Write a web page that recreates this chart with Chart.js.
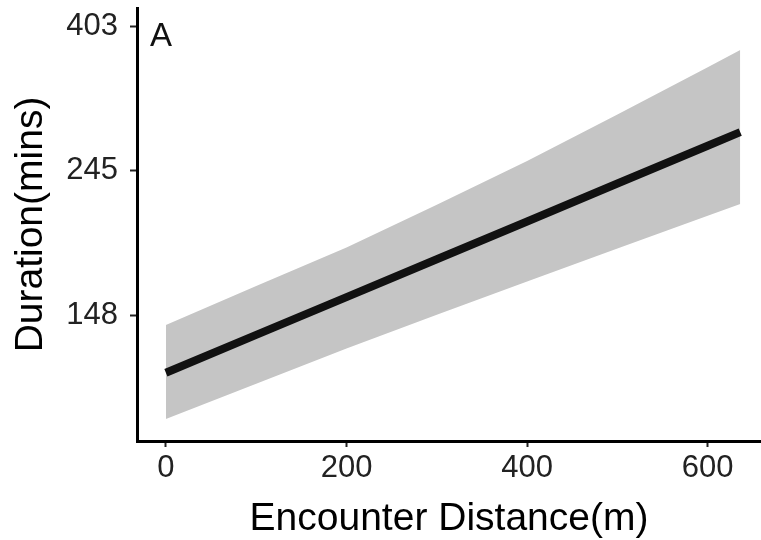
<!DOCTYPE html>
<html>
<head>
<meta charset="utf-8">
<script src="https://cdn.jsdelivr.net/npm/chart.js@4.4.1/dist/chart.umd.min.js"></script>
<style>
  html, body { margin: 0; padding: 0; background: #ffffff; }
  canvas { display: block; }
</style>
</head>
<body>
<canvas id="c" width="761" height="540"></canvas>
<script>
// Encounter distance (m)
const distance = [0, 100, 200, 300, 400, 500, 600, 636];
// Fitted duration (mins)
const fitted = [121.6, 138.6, 158.0, 180.1, 205.3, 234.1, 266.8, 279.7];
// 95% confidence band
const upper = [143.4, 164.2, 187.6, 217.6, 253.1, 297.3, 350.3, 371.8];
const lower = [103.6, 117.0, 132.2, 148.6, 166.7, 186.9, 209.4, 218.1];
// Axis ticks
const xTickValues = [0, 200, 400, 600];
const yTickValues = [148.41, 244.69, 403.43];
const yTickLabels = ['148', '245', '403'];
const panelLabel = 'A';

const FONT = "'Liberation Sans', Arial, sans-serif";

const toPts = (ys) => distance.map((d, i) => ({ x: d, y: ys[i] }));

const panelLabelPlugin = {
  id: 'panelLabel',
  afterDraw(chart) {
    const ctx = chart.ctx;
    ctx.save();
    ctx.font = '33px ' + FONT;
    ctx.fillStyle = '#111111';
    ctx.textBaseline = 'alphabetic';
    ctx.textAlign = 'left';
    ctx.fillText(panelLabel, chart.chartArea.left + 13, 46);
    ctx.restore();
  }
};

new Chart(document.getElementById('c'), {
  type: 'line',
  data: {
    datasets: [
      {
        label: 'fit',
        data: toPts(fitted),
        borderColor: '#111111',
        borderWidth: 8,
        pointRadius: 0,
        fill: false,
        tension: 0,
        borderCapStyle: 'butt'
      },
      {
        label: 'upper',
        data: toPts(upper),
        borderWidth: 0,
        pointRadius: 0,
        backgroundColor: 'rgb(197,197,197)',
        fill: '+1',
        tension: 0
      },
      {
        label: 'lower',
        data: toPts(lower),
        borderWidth: 0,
        pointRadius: 0,
        backgroundColor: 'rgb(197,197,197)',
        fill: false,
        tension: 0
      }
    ]
  },
  options: {
    responsive: false,
    devicePixelRatio: 1,
    animation: false,
    layout: { padding: { top: 8, right: 0, bottom: 0, left: 0 } },
    plugins: {
      legend: { display: false },
      tooltip: { enabled: false },
      title: { display: false }
    },
    scales: {
      x: {
        type: 'linear',
        min: -32,
        max: 659,
        afterBuildTicks(scale) {
          scale.ticks = xTickValues.map(v => ({ value: v }));
        },
        afterFit(scale) {
          scale.height = 99;
          scale.paddingLeft = 0;
          scale.paddingRight = 0;
        },
        grid: {
          display: true,
          drawOnChartArea: false,
          drawTicks: true,
          tickLength: 6,
          tickColor: '#222222',
          tickWidth: 2
        },
        border: { display: true, color: '#000000', width: 3 },
        ticks: {
          color: '#222222',
          font: { family: FONT, size: 31 },
          padding: 3,
          maxRotation: 0,
          autoSkip: false,
          callback: (v) => String(v)
        },
        title: {
          display: true,
          text: 'Encounter Distance(m)',
          color: '#000000',
          font: { family: FONT, size: 39 },
          padding: { top: 0, bottom: -3 }
        }
      },
      y: {
        type: 'logarithmic',
        min: 96.0,
        max: 429.9,
        afterBuildTicks(scale) {
          scale.ticks = yTickValues.map(v => ({ value: v }));
        },
        afterFit(scale) {
          scale.width = 137;
          scale.paddingTop = 0;
          scale.paddingBottom = 0;
        },
        grid: {
          display: true,
          drawOnChartArea: false,
          drawTicks: true,
          tickLength: 7,
          tickColor: '#222222',
          tickWidth: 2
        },
        border: { display: true, color: '#000000', width: 3 },
        ticks: {
          color: '#222222',
          font: { family: FONT, size: 31 },
          padding: 12,
          autoSkip: false,
          callback: (v, i) => yTickLabels[i]
        },
        title: {
          display: true,
          text: 'Duration(mins)',
          color: '#000000',
          font: { family: FONT, size: 39 },
          padding: { top: 8, bottom: 0 }
        }
      }
    }
  },
  plugins: [panelLabelPlugin]
});
</script>
</body>
</html>
